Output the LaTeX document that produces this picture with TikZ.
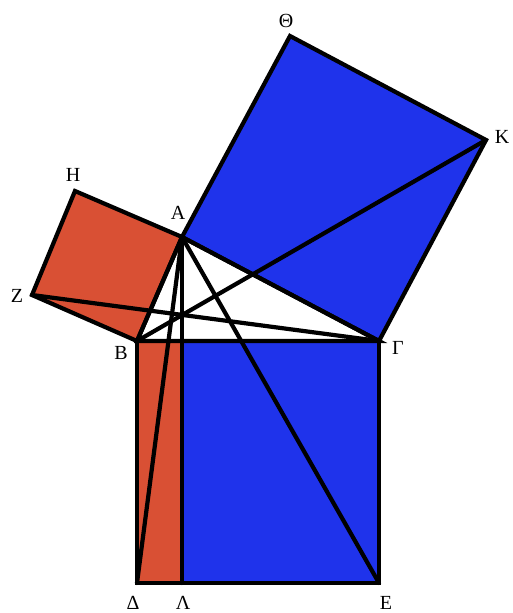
\documentclass[tikz,border=0pt]{standalone}
\usepackage{fontspec}
\setmainfont{Liberation Serif}
\definecolor{sqred}{RGB}{217,80,52}
\definecolor{sqblue}{RGB}{31,51,235}
\begin{document}
\begin{tikzpicture}[x=1pt,y=-1pt,
  edge/.style={line width=4.2pt,line join=miter,line cap=round},
  lbl/.style={font=\fontsize{20}{20}\selectfont,inner sep=0pt}]
\useasboundingbox (0,0) rectangle (513,613);
\coordinate (A) at (182,237);
\coordinate (B) at (137,341);
\coordinate (G) at (379,341);
\coordinate (D) at (137,583);
\coordinate (E) at (379,583);
\coordinate (L) at (182,583);
\coordinate (M) at (182,341);
\coordinate (Z) at (32,295);
\coordinate (H) at (75,191);
\coordinate (T) at (290,36);
\coordinate (K) at (486,140);
% fills
\fill[sqred] (B) -- (Z) -- (H) -- (A) -- cycle;
\fill[sqblue] (A) -- (T) -- (K) -- (G) -- cycle;
\fill[sqred] (B) -- (D) -- (L) -- (M) -- cycle;
\fill[sqblue] (M) -- (L) -- (E) -- (G) -- cycle;
% outlines
\draw[edge] (B) -- (Z) -- (H) -- (A) -- cycle;
\draw[edge] (A) -- (T) -- (K) -- (G) -- cycle;
\draw[edge] (B) -- (D) -- (E) -- (G) -- cycle;
\draw[edge] (A) -- (B) -- (G) -- cycle;
\draw[edge] (A) -- (L);
\draw[edge] (A) -- (D);
\draw[edge] (A) -- (E);
\draw[edge] (Z) -- (G);
\draw[edge] (B) -- (K);
% labels
\node[lbl] (lA) at (178,213) {Α};
\node[lbl] (lB) at (121,353) {Β};
\node[lbl] (lG) at (398,348) {Γ};
\node[lbl] (lD) at (133,603) {Δ};
\node[lbl] (lE) at (386,603) {Ε};
\node[lbl] (lL) at (183,603) {Λ};
\node[lbl] (lZ) at (17,296) {Ζ};
\node[lbl] (lH) at (73,175) {Η};
\node[lbl] (lT) at (286,21) {Θ};
\node[lbl] (lK) at (502,137) {Κ};
\end{tikzpicture}
\end{document}
